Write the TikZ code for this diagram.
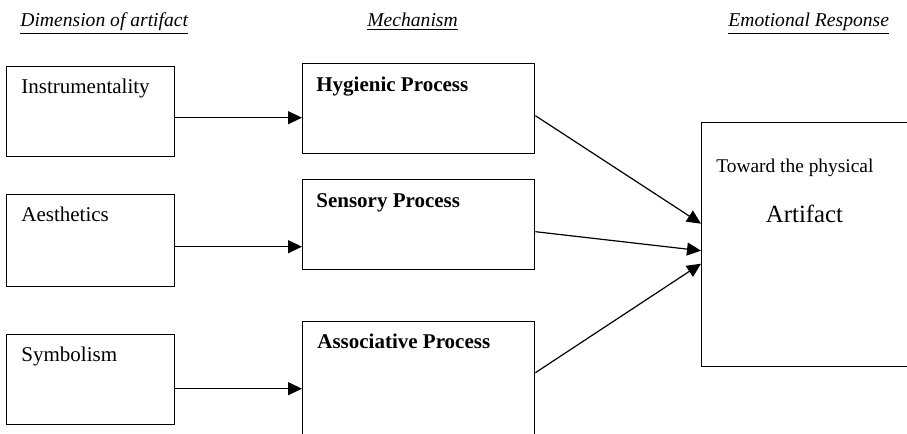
\documentclass[tikz,border=0pt]{standalone}
\usepackage{fontspec}
\setmainfont{Liberation Serif}
\usetikzlibrary{positioning,arrows.meta}

\begin{document}
\begin{tikzpicture}[
  x=0.5pt, y=-0.5pt,
  box/.style={draw, line width=0.7pt, anchor=north west, inner sep=0pt},
  dimbox/.style={box, minimum width=84pt, minimum height=45pt},
  mechbox/.style={box, minimum width=116pt, minimum height=45pt},
  lbl/.style={anchor=base west, inner sep=0pt, font=\fontsize{10.5}{12}\selectfont},
  head/.style={anchor=base west, inner sep=0pt, font=\fontsize{9.8}{12}\selectfont\itshape},
  arr/.style={-{Triangle[length=7pt,width=6.5pt]}, line width=0.6pt}
]
  \clip (0,0) rectangle (907,434);

  \node[head] (hdim) at (20,26) {\underline{Dimension of artifact}};
  \node[head] (hmech) at (367,26) {\underline{Mechanism}};
  \node[head] (hemo) at (728,26) {\underline{Emotional Response}};

  \node[dimbox] (instr) at (6,66) {};
  \node[dimbox, minimum height=46pt] (aesth) at (6,194) {};
  \node[dimbox] (symb) at (6,334) {};
  \node[lbl] at ([xshift=7.5pt,yshift=-13.75pt]instr.north west) {Instrumentality};
  \node[lbl] at ([xshift=7.5pt,yshift=-13.75pt]aesth.north west) {Aesthetics};
  \node[lbl] at ([xshift=7.5pt,yshift=-13.75pt]symb.north west) {Symbolism};

  \node[mechbox] (hyg) at (302,63) {};
  \node[mechbox] (sens) at (302,179) {};
  \node[mechbox, minimum height=65pt] (assoc) at (302,321) {};
  \node[lbl] at ([xshift=7pt,yshift=-14pt]hyg.north west) {\textbf{Hygienic Process}};
  \node[lbl] at ([xshift=7pt,yshift=-14pt]sens.north west) {\textbf{Sensory Process}};
  \node[lbl] at ([xshift=7.5pt,yshift=-13.5pt]assoc.north west) {\textbf{Associative Process}};

  \node[box, minimum width=110pt, minimum height=122pt] (art) at (701,122) {};
  \node[lbl, font=\fontsize{9.7}{12}\selectfont] (toward) at ([xshift=7.5pt,yshift=-25pt]art.north west) {Toward the physical};
  \node[lbl, anchor=base, font=\fontsize{12.4}{14}\selectfont] (artxt) at ([xshift=51.75pt,yshift=-50pt]art.north west) {Artifact};

  \draw[arr] ([yshift=-3pt]instr.east) -- ([yshift=-3pt]instr.east -| hyg.west);
  \draw[arr] ([yshift=-3pt]aesth.east) -- ([yshift=-3pt]aesth.east -| sens.west);
  \draw[arr] ([yshift=-4.5pt]symb.east) -- ([yshift=-4.5pt]symb.east -| assoc.west);

  \draw[arr] ([yshift=-3.5pt]hyg.east) -- ([yshift=10.5pt]art.west);
  \draw[arr] ([yshift=-3.5pt]sens.east) -- ([yshift=-3pt]art.west);
  \draw[arr] ([yshift=7pt]assoc.east) -- ([yshift=-9.5pt]art.west);
\end{tikzpicture}
\end{document}
